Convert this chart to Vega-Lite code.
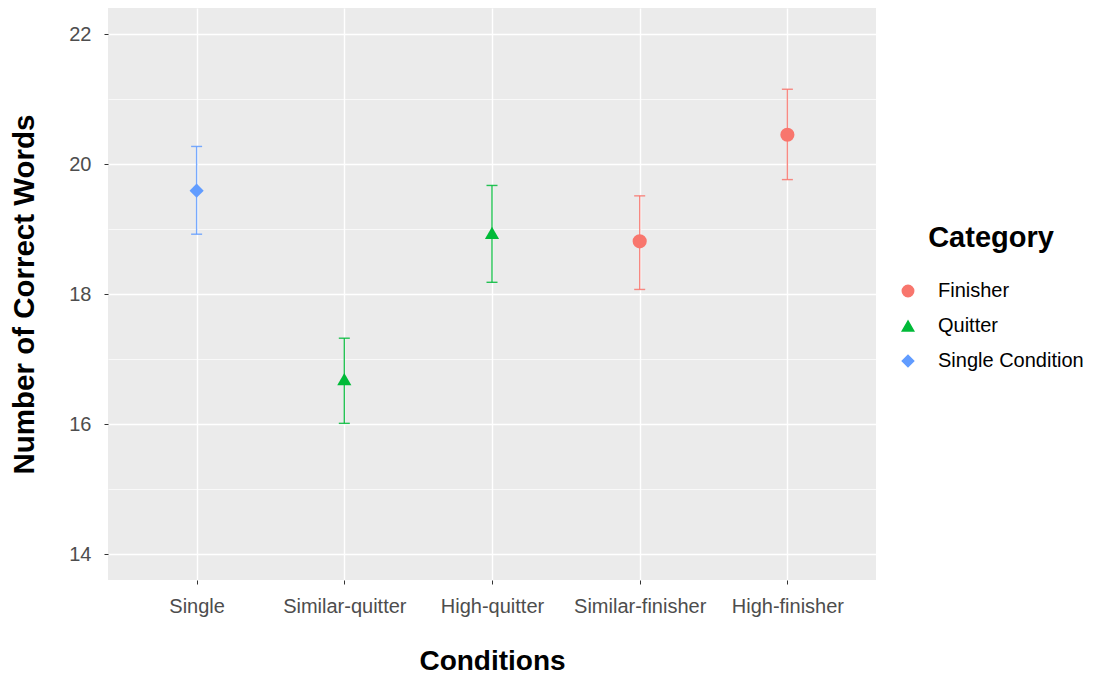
{
  "$schema": "https://vega.github.io/schema/vega-lite/v6.json",
  "width": 768,
  "height": 572,
  "autosize": {"type": "none"},
  "padding": {"left": 108, "top": 8, "right": 219, "bottom": 100},
  "background": "white",
  "config": {
    "view": {"fill": "#ebebeb", "stroke": null},
    "font": "Liberation Sans",
    "legend": {
      "orient": "none",
      "legendX": 790,
      "legendY": 216,
      "titleFont": "Liberation Sans",
      "titleFontSize": 29,
      "titleFontWeight": "bold",
      "titleColor": "black",
      "titleAnchor": "middle",
      "titlePadding": 28,
      "labelFont": "Liberation Sans",
      "labelFontSize": 20,
      "labelColor": "black",
      "labelOffset": 20,
      "rowPadding": 15,
      "symbolSize": 130,
      "symbolOpacity": 1
    }
  },
  "data": {
    "values": [
      {"condition": "Single", "category": "Single Condition", "mean": 19.59, "lo": 18.92, "hi": 20.27},
      {"condition": "Similar-quitter", "category": "Quitter", "mean": 16.69, "lo": 16.01, "hi": 17.32},
      {"condition": "High-quitter", "category": "Quitter", "mean": 18.94, "lo": 18.18, "hi": 19.67},
      {"condition": "Similar-finisher", "category": "Finisher", "mean": 18.81, "lo": 18.07, "hi": 19.51},
      {"condition": "High-finisher", "category": "Finisher", "mean": 20.45, "lo": 19.76, "hi": 21.15}
    ]
  },
  "encoding": {
    "x": {
      "field": "condition",
      "type": "nominal",
      "sort": ["Single", "Similar-quitter", "High-quitter", "Similar-finisher", "High-finisher"],
      "scale": {"type": "point", "padding": 0.6},
      "axis": {
        "title": "Conditions",
        "titleFont": "Liberation Sans",
        "titleFontSize": 28,
        "titleFontWeight": "bold",
        "titleColor": "black",
        "titlePadding": 31,
        "labelAngle": 0,
        "labelFontSize": 20,
        "labelColor": "#4d4d4d",
        "labelPadding": 12,
        "tickColor": "#333333",
        "tickSize": 4,
        "domain": false,
        "grid": true,
        "gridColor": "white",
        "gridWidth": 1.4
      }
    },
    "color": {
      "field": "category",
      "type": "nominal",
      "title": "Category",
      "scale": {"domain": ["Finisher", "Quitter", "Single Condition"], "range": ["#F8766D", "#00BA38", "#619CFF"]}
    }
  },
  "layer": [
    {
      "mark": {"type": "rule", "strokeWidth": 1.4, "opacity": 0.85},
      "encoding": {
        "y": {
          "field": "lo",
          "type": "quantitative",
          "scale": {"domain": [13.6, 22.4], "nice": false, "zero": false},
          "axis": {
            "title": "Number of Correct Words",
            "titleFont": "Liberation Sans",
            "titleFontSize": 29.5,
            "titleFontWeight": "bold",
            "titleColor": "black",
            "titlePadding": 29,
            "values": [14, 15, 16, 17, 18, 19, 20, 21, 22],
            "format": "d",
            "labelExpr": "datum.value % 2 == 0 ? datum.label : ''",
            "labelFontSize": 20,
            "labelColor": "#4d4d4d",
            "labelPadding": 13,
            "tickColor": "#333333",
            "tickSize": 4,
            "tickOpacity": {"condition": {"test": "datum.value % 2 == 0", "value": 1}, "value": 0},
            "domain": false,
            "grid": true,
            "gridColor": "white",
            "gridWidth": {"condition": {"test": "datum.value % 2 == 0", "value": 1.4}, "value": 0.7}
          }
        },
        "y2": {"field": "hi"}
      }
    },
    {
      "mark": {"type": "tick", "size": 11, "thickness": 1.4, "opacity": 0.85},
      "encoding": {"y": {"field": "lo", "type": "quantitative"}}
    },
    {
      "mark": {"type": "tick", "size": 11, "thickness": 1.4, "opacity": 0.85},
      "encoding": {"y": {"field": "hi", "type": "quantitative"}}
    },
    {
      "mark": {"type": "point", "filled": true, "opacity": 1, "size": 200},
      "encoding": {
        "y": {"field": "mean", "type": "quantitative"},
        "shape": {
          "field": "category",
          "type": "nominal",
          "title": "Category",
          "scale": {"domain": ["Finisher", "Quitter", "Single Condition"], "range": ["circle", "triangle-up", "diamond"]}
        }
      }
    }
  ]
}
